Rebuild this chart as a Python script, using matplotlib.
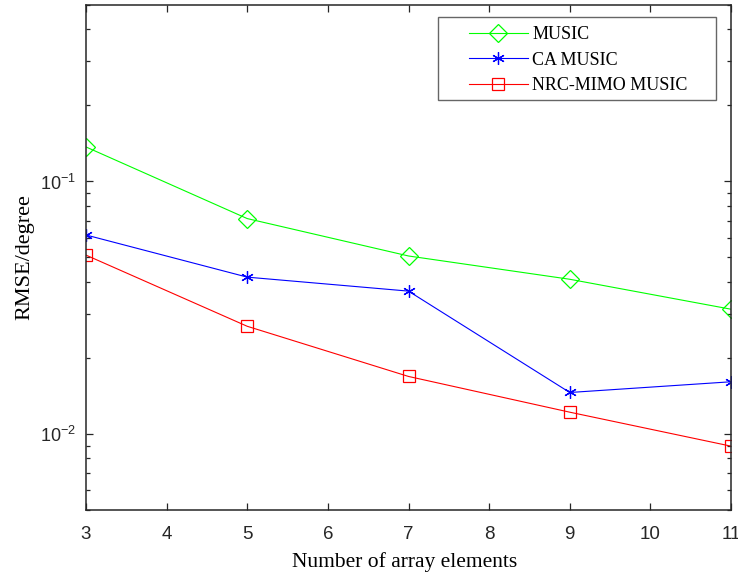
import matplotlib
matplotlib.use("Agg")
import matplotlib.pyplot as plt
from matplotlib.ticker import LogLocator, LogFormatterSciNotation, NullFormatter, FixedLocator
from matplotlib.legend_handler import HandlerLine2D
from matplotlib.patches import Rectangle

plt.rcParams['mathtext.fontset'] = 'custom'
plt.rcParams['mathtext.rm'] = 'Liberation Sans'
plt.rcParams['mathtext.it'] = 'Liberation Sans:italic'
plt.rcParams['mathtext.bf'] = 'Liberation Sans:bold'

x = [3, 5, 7, 9, 11]
music = [0.137, 0.0713, 0.0507, 0.041, 0.0312]
ca_music = [0.0614, 0.0418, 0.0368, 0.0146, 0.0161]
nrc_music = [0.0511, 0.0267, 0.0169, 0.0122, 0.00895]
labels = ["MUSIC", "CA MUSIC", "NRC-MIMO MUSIC"]
xticks = [3, 4, 5, 6, 7, 8, 9, 10, 11]


class ShiftedHandler(HandlerLine2D):
    def __init__(self, shift, **kw):
        super().__init__(**kw)
        self.shift = shift

    def create_artists(self, legend, orig_handle, xdescent, ydescent,
                       width, height, fontsize, trans):
        return super().create_artists(legend, orig_handle, xdescent - self.shift,
                                      ydescent, width - self.shift, height,
                                      fontsize, trans)


fig = plt.figure(figsize=(7.38, 5.77), dpi=100)
ax = fig.add_axes([86/738, (577-510)/577, (731-86)/738, (510-5)/577])

l1, = ax.plot(x, music, color=(0, 1, 0), lw=0.8, marker='D', markersize=9,
              markerfacecolor='none', markeredgecolor=(0, 1, 0), markeredgewidth=0.9, label=labels[0])
l2, = ax.plot(x, ca_music, color=(0, 0, 1), lw=0.8, marker=(6, 2, 0), markersize=9,
              markeredgecolor=(0, 0, 1), markeredgewidth=0.9, label=labels[1])
l3, = ax.plot(x, nrc_music, color=(1, 0, 0), lw=0.8, marker='s', markersize=8,
              markerfacecolor='none', markeredgecolor=(1, 0, 0), markeredgewidth=0.9, label=labels[2])

ax.set_yscale('log')
ax.set_xlim(3, 11)
ax.set_ylim(0.005, 0.5)
ax.set_xticks(xticks)
ax.yaxis.set_major_locator(FixedLocator([0.01, 0.1]))
ax.yaxis.set_major_formatter(LogFormatterSciNotation())
ax.yaxis.set_minor_locator(LogLocator(base=10, subs=range(2, 10)))
ax.yaxis.set_minor_formatter(NullFormatter())

for s in ax.spines.values():
    s.set_linewidth(1.1)
    s.set_color('#262626')
ax.tick_params(which='both', direction='in', top=True, right=True, colors='#262626')
ax.tick_params(which='major', length=5, width=0.9)
ax.tick_params(axis='x', which='major', labelsize=13.5, pad=11.5)
ax.tick_params(axis='y', which='major', labelsize=13, pad=7)
ax.tick_params(which='minor', length=3, width=0.9)
for t in ax.get_xticklabels() + ax.get_yticklabels():
    t.set_fontfamily('Liberation Sans')

ax.set_xlabel("Number of array elements", fontfamily='Liberation Serif', fontsize=15.5, labelpad=6.5)
ax.xaxis.label.set_x((404.5 - 86) / 645)
ax.set_ylabel("RMSE/degree", fontfamily='Liberation Serif', fontsize=16, labelpad=4)

shift = 22 * 0.72
hm = {l1: ShiftedHandler(shift), l2: ShiftedHandler(shift), l3: ShiftedHandler(shift)}
leg = ax.legend(handles=[l1, l2, l3], handler_map=hm,
                loc='upper left', bbox_to_anchor=((437.7 - 86) / 645, 1 - (17.3 - 5) / 505),
                prop={'family': 'Liberation Serif', 'size': 13},
                frameon=True, fancybox=False, edgecolor='none', framealpha=1,
                handlelength=4.49, borderpad=0.5, labelspacing=0.46, handletextpad=0.26,
                borderaxespad=0.0)

fig.canvas.draw()
bb = leg.get_frame().get_window_extent(fig.canvas.get_renderer())
x0, y0 = bb.x0, bb.y0 + 3
x1, y1 = bb.x1 + 19, bb.y1
(fx0, fy0) = fig.transFigure.inverted().transform((x0, y0))
(fx1, fy1) = fig.transFigure.inverted().transform((x1, y1))
fig.add_artist(Rectangle((fx0, fy0), fx1 - fx0, fy1 - fy0, transform=fig.transFigure,
                         fill=False, edgecolor='#666666', linewidth=1.0, zorder=10))

fig.savefig("out.png", dpi=100)
